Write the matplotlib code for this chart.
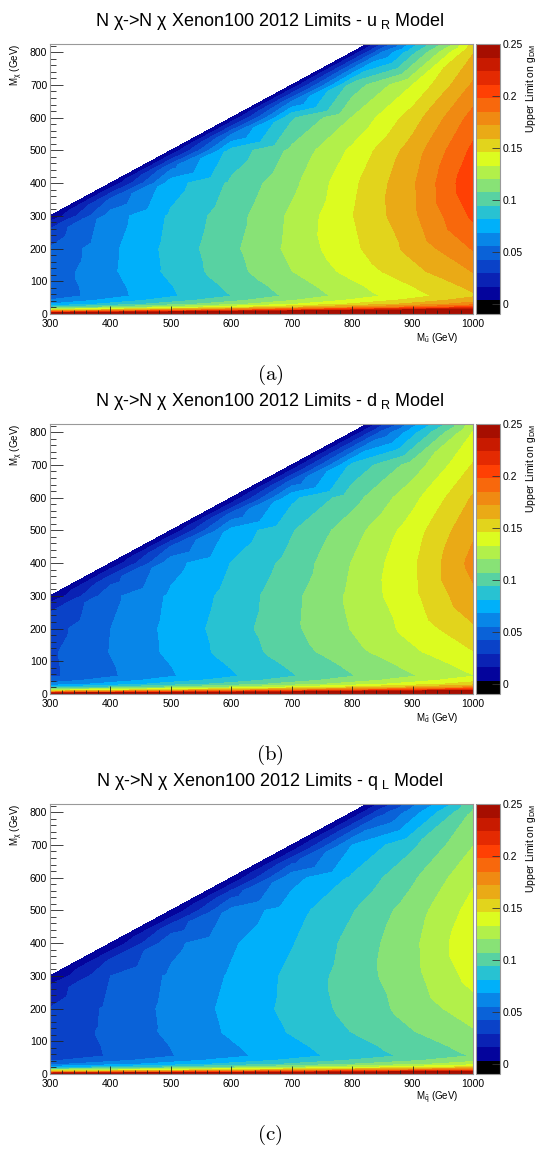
import numpy as np
import matplotlib
matplotlib.use('Agg')
import matplotlib.pyplot as plt
import matplotlib.tri as mtri
from matplotlib.colors import ListedColormap, BoundaryNorm
from matplotlib.cm import ScalarMappable
from matplotlib.ticker import MultipleLocator

plt.rcParams['font.family'] = ['Liberation Sans', 'DejaVu Sans']
plt.rcParams['mathtext.fontset'] = 'custom'
plt.rcParams['mathtext.rm'] = 'Liberation Sans'
plt.rcParams['mathtext.it'] = 'Liberation Sans:italic'

nan = np.nan

# scan grid: mediator mass columns, DM mass rows
mu_cols = [300, 400, 500, 600, 700, 800, 900, 1000]
mchi_rows = [0, 6, 12, 20, 30, 42, 55, 85, 130, 200, 300, 400, 500, 600, 700, 800, 850]
# extra points just below the M_chi = M_mediator edge
edge_mu = [300, 400, 500, 600, 700, 800, 850]
edge_gaps = [0, 20, 50]

g_uR = [
    [0.307, 0.323, 0.339, 0.354, 0.370, 0.386, 0.401, 0.417],
    [0.207, 0.223, 0.239, 0.254, 0.270, 0.286, 0.301, 0.317],
    [0.147, 0.163, 0.179, 0.194, 0.210, 0.226, 0.241, 0.257],
    [0.097, 0.113, 0.129, 0.144, 0.160, 0.176, 0.191, 0.207],
    [0.069, 0.085, 0.101, 0.116, 0.132, 0.148, 0.163, 0.179],
    [0.056, 0.072, 0.088, 0.103, 0.119, 0.135, 0.150, 0.166],
    [0.047, 0.063, 0.079, 0.094, 0.110, 0.126, 0.141, 0.157],
    [0.0469, 0.0637, 0.0803, 0.0968, 0.1133, 0.1297, 0.1460, 0.1624],
    [0.0470, 0.0658, 0.0840, 0.1019, 0.1197, 0.1374, 0.1550, 0.1725],
    [0.0430, 0.0650, 0.0850, 0.1040, 0.1235, 0.1430, 0.1630, 0.1860],
    [nan, 0.0610, 0.0830, 0.1010, 0.1225, 0.1455, 0.1690, 0.2005],
    [nan, nan, 0.0748, 0.0963, 0.1166, 0.1429, 0.1700, 0.2090],
    [nan, nan, nan, 0.0850, 0.1100, 0.1355, 0.1650, 0.2010],
    [nan, nan, nan, nan, 0.0920, 0.1205, 0.1525, 0.1900],
    [nan, nan, nan, nan, nan, 0.0990, 0.1330, 0.1740],
    [nan, nan, nan, nan, nan, nan, 0.0900, 0.1580],
    [nan, nan, nan, nan, nan, nan, 0.0580, 0.1450],
]
g_uR_edge = [
    [0.004, 0.004, 0.004, 0.004, 0.004, 0.004, 0.004],
    [0.019, 0.021, 0.022, 0.023, 0.024, 0.025, 0.025],
    [0.034, 0.044, 0.051, 0.054, 0.055, 0.055, 0.055],
]

g_dR = [
    [0.280, 0.293, 0.307, 0.319, 0.333, 0.346, 0.359, 0.373],
    [0.185, 0.198, 0.212, 0.224, 0.238, 0.251, 0.264, 0.278],
    [0.130, 0.143, 0.157, 0.169, 0.183, 0.196, 0.209, 0.223],
    [0.085, 0.098, 0.112, 0.124, 0.138, 0.151, 0.164, 0.178],
    [0.060, 0.073, 0.087, 0.099, 0.113, 0.126, 0.139, 0.153],
    [0.048, 0.061, 0.075, 0.087, 0.101, 0.114, 0.127, 0.141],
    [0.0397, 0.0532, 0.0667, 0.0793, 0.0928, 0.1063, 0.1190, 0.1325],
    [0.0396, 0.0538, 0.0678, 0.0817, 0.0956, 0.1095, 0.1232, 0.1371],
    [0.0397, 0.0555, 0.0709, 0.0860, 0.1010, 0.1160, 0.1308, 0.1456],
    [0.0363, 0.0549, 0.0717, 0.0878, 0.1042, 0.1207, 0.1376, 0.1570],
    [nan, 0.0515, 0.0701, 0.0852, 0.1034, 0.1228, 0.1426, 0.1692],
    [nan, nan, 0.0631, 0.0813, 0.0984, 0.1206, 0.1435, 0.1764],
    [nan, nan, nan, 0.0717, 0.0928, 0.1144, 0.1393, 0.1696],
    [nan, nan, nan, nan, 0.0776, 0.1017, 0.1287, 0.1604],
    [nan, nan, nan, nan, nan, 0.0836, 0.1123, 0.1469],
    [nan, nan, nan, nan, nan, nan, 0.0760, 0.1333],
    [nan, nan, nan, nan, nan, nan, 0.0490, 0.1224],
]
g_dR_edge = [
    [0.004, 0.004, 0.004, 0.004, 0.004, 0.004, 0.004],
    [0.016, 0.018, 0.019, 0.019, 0.020, 0.021, 0.021],
    [0.029, 0.037, 0.043, 0.046, 0.046, 0.046, 0.046],
]

g_qL = [
    [0.272, 0.283, 0.294, 0.305, 0.316, 0.327, 0.337, 0.348],
    [0.177, 0.188, 0.199, 0.210, 0.221, 0.232, 0.242, 0.253],
    [0.122, 0.133, 0.144, 0.155, 0.166, 0.177, 0.187, 0.198],
    [0.077, 0.088, 0.099, 0.110, 0.121, 0.132, 0.142, 0.153],
    [0.052, 0.063, 0.074, 0.085, 0.096, 0.107, 0.117, 0.128],
    [0.040, 0.051, 0.062, 0.073, 0.084, 0.095, 0.105, 0.116],
    [0.0323, 0.0433, 0.0543, 0.0646, 0.0756, 0.0866, 0.0969, 0.1079],
    [0.0322, 0.0438, 0.0552, 0.0665, 0.0778, 0.0891, 0.1003, 0.1116],
    [0.0323, 0.0452, 0.0577, 0.0700, 0.0822, 0.0944, 0.1065, 0.1185],
    [0.0295, 0.0447, 0.0584, 0.0714, 0.0848, 0.0982, 0.1120, 0.1278],
    [nan, 0.0419, 0.0570, 0.0694, 0.0842, 0.1000, 0.1161, 0.1377],
    [nan, nan, 0.0514, 0.0662, 0.0801, 0.0982, 0.1168, 0.1436],
    [nan, nan, nan, 0.0584, 0.0756, 0.0931, 0.1134, 0.1381],
    [nan, nan, nan, nan, 0.0632, 0.0828, 0.1048, 0.1305],
    [nan, nan, nan, nan, nan, 0.0680, 0.0914, 0.1195],
    [nan, nan, nan, nan, nan, nan, 0.0618, 0.1085],
    [nan, nan, nan, nan, nan, nan, 0.0398, 0.0996],
]
g_qL_edge = [
    [0.004, 0.004, 0.004, 0.004, 0.004, 0.004, 0.004],
    [0.013, 0.014, 0.015, 0.016, 0.016, 0.017, 0.017],
    [0.023, 0.030, 0.035, 0.037, 0.038, 0.038, 0.038],
]

panels = [
    ('u', r'$\mathregular{u_{\ R}}$', g_uR, g_uR_edge, '(a)'),
    ('d', r'$\mathregular{d_{\ R}}$', g_dR, g_dR_edge, '(b)'),
    ('q', r'$\mathregular{q_{\ L}}$', g_qL, g_qL_edge, '(c)'),
]

palette = ['#000000', '#04049c', '#0a22b4', '#0a42c8', '#0a62d8',
           '#0886e8', '#00b0fa', '#28c2d2', '#58d2a2', '#88e276',
           '#b2f04a', '#dcfc20', '#e2d41c', '#eaaa16', '#f08a12',
           '#f8680c', '#ff4004', '#e42a02', '#c81a00', '#a60e00']
levels = np.linspace(-0.01, 0.25, 21)
cmap = ListedColormap(palette)
cmap.set_over(palette[-1])
cmap.set_under(palette[0])
cb_ticks = [0, 0.05, 0.1, 0.15, 0.2, 0.25]
cb_labels = ['0', '0.05', '0.1', '0.15', '0.2', '0.25']

W, H = 541, 1151
fig = plt.figure(figsize=(W / 100, H / 100), dpi=100)


def points(table, edge):
    xs, ys, zs = [], [], []
    for i, m in enumerate(mchi_rows):
        for j, mu in enumerate(mu_cols):
            if not np.isnan(table[i][j]):
                xs.append(mu)
                ys.append(m)
                zs.append(table[i][j])
    for k, gap in enumerate(edge_gaps):
        for j, mu in enumerate(edge_mu):
            xs.append(mu)
            ys.append(mu - gap)
            zs.append(edge[k][j])
    return np.array(xs, float), np.array(ys, float), np.array(zs)


for p, (q, sub, table, edge, tag) in enumerate(panels):
    off = 380 * p
    norm = BoundaryNorm(levels, len(palette))
    ax = fig.add_axes([50 / W, 1 - (314 + off) / H, 423 / W, 270 / H])
    x, y, z = points(table, edge)
    # delaunay in screen-like units so cells are not squashed
    d = mtri.Triangulation(x * 0.604, y * 0.327)
    tri = mtri.Triangulation(x, y, d.triangles)
    ax.tricontourf(tri, z, levels=levels, cmap=cmap, norm=norm, extend='both')
    ax.set_xlim(300, 1000)
    ax.set_ylim(0, 825)
    ax.xaxis.set_major_locator(MultipleLocator(100))
    ax.xaxis.set_minor_locator(MultipleLocator(20))
    ax.yaxis.set_major_locator(MultipleLocator(100))
    ax.yaxis.set_minor_locator(MultipleLocator(20))
    ax.tick_params(axis='x', which='major', direction='in', length=5.5, width=0.6,
                   color='#222222', labelsize=7.5, pad=3.5)
    ax.tick_params(axis='x', which='minor', direction='in', length=2.8, width=0.6, color='#222222')
    ax.tick_params(axis='y', which='major', direction='in', length=9, width=0.6,
                   color='#222222', labelsize=7.5, pad=2)
    ax.tick_params(axis='y', which='minor', direction='in', length=4.5, width=0.6, color='#222222')
    for s in ax.spines.values():
        s.set_color('#999999')
        s.set_linewidth(0.8)

    fig.text(270 / W, 1 - (22 + off) / H,
             'N χ->N χ Xenon100 2012 Limits - ' + sub + ' Model',
             ha='center', va='center', fontsize=13)
    fig.text(17 / W, 1 - (44 + off) / H, r'M$_{\mathregular{χ}}$ (GeV)',
             rotation=90, ha='center', va='top', fontsize=7)
    fig.text(458 / W, 1 - (338 + off) / H, r'M$_{\tilde{\mathregular{%s}}}$ (GeV)' % q,
             ha='right', va='center', fontsize=7)

    cax = fig.add_axes([476 / W, 1 - (314 + off) / H, 24 / W, 270 / H])
    cb = fig.colorbar(ScalarMappable(norm=norm, cmap=cmap), cax=cax)
    cb.set_ticks(cb_ticks, labels=cb_labels)
    cb.ax.minorticks_off()
    cb.ax.tick_params(direction='in', length=6, width=0.6, color='#333333',
                      labelsize=7.5, pad=2)
    cb.outline.set_edgecolor('#999999')
    cb.outline.set_linewidth(0.8)
    fig.text(531 / W, 1 - (44 + off) / H, r'Upper Limit on g$_{\mathregular{DM}}$',
             rotation=90, ha='center', va='top', fontsize=7.5)

    fig.text(270 / W, 1 - (375 + off) / H, r'$\mathrm{%s}$' % tag,
             ha='center', va='center', fontsize=15, math_fontfamily='cm')

fig.savefig('out.png', dpi=100, facecolor='white')
